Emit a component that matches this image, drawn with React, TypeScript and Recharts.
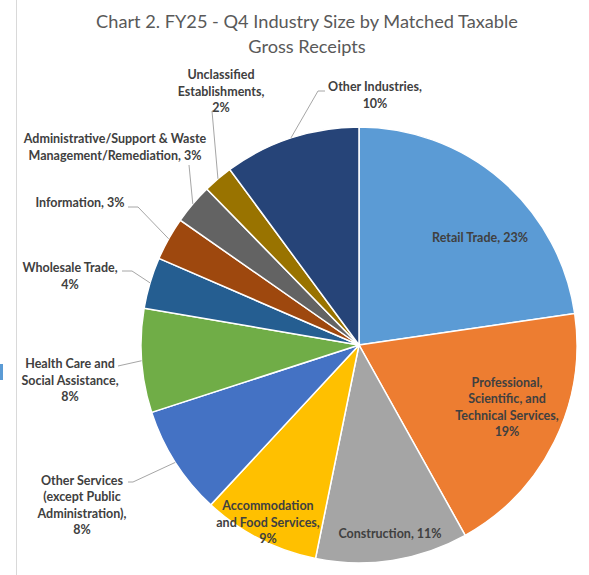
import React from 'react';
import { PieChart, Pie, Cell } from 'recharts';

const industries = [
  'Retail Trade',
  'Professional, Scientific, and Technical Services',
  'Construction',
  'Accommodation and Food Services',
  'Other Services (except Public Administration)',
  'Health Care and Social Assistance',
  'Wholesale Trade',
  'Information',
  'Administrative/Support & Waste Management/Remediation',
  'Unclassified Establishments',
  'Other Industries',
];

// share of matched taxable gross receipts (%)
const shares = [22.7, 19.2, 11.3, 8.7, 8.1, 7.7, 3.8, 3.2, 3.0, 2.2, 10.1];

// how Excel wrapped each data label; {p} is the percentage
const labelLines = [
  ['Retail Trade, {p}'],
  ['Professional,', 'Scientific, and', 'Technical Services,', '{p}'],
  ['Construction, {p}'],
  ['Accommodation', 'and Food Services,', '{p}'],
  ['Other Services', '(except Public', 'Administration),', '{p}'],
  ['Health Care and', 'Social Assistance,', '{p}'],
  ['Wholesale Trade,', '{p}'],
  ['Information, {p}'],
  ['Administrative/Support & Waste', 'Management/Remediation, {p}'],
  ['Unclassified', 'Establishments,', '{p}'],
  ['Other Industries,', '{p}'],
];

const colors = [
  '#5B9BD5', '#ED7D31', '#A5A5A5', '#FFC000', '#4472C4', '#70AD47',
  '#255E91', '#9E480E', '#636363', '#997300', '#264478',
];

const data = industries.map((name, i) => ({ name, value: shares[i] }));

// label placement relative to pie centre: text centre, leader knee and tail
type Place = { tx: number; ty: number; knee?: [number, number]; tail?: [number, number] };
const placement: Place[] = [
  { tx: 121, ty: -108 },
  { tx: 148, ty: 62 },
  { tx: 31, ty: 188 },
  { tx: -91, ty: 177 },
  { tx: -277, ty: 160, knee: [-226, 137], tail: [-231, 137] },
  { tx: -289, ty: 35, knee: [-241, 21], tail: [-241, 21] },
  { tx: -289, ty: -69, knee: [-227, -74], tail: [-237, -74] },
  { tx: -279, ty: -143, knee: [-221, -138], tail: [-231, -138] },
  { tx: -244, ty: -198, knee: [-170, -180], tail: [-170, -180] },
  { tx: -138, ty: -254, knee: [-147, -234], tail: [-144, -234] },
  { tx: 16, ty: -250, knee: [-41, -254], tail: [-34, -254] },
];

const RADIAN = Math.PI / 180;
const LINE_H = 16.5;

const renderLabel = (props: any) => {
  const { cx, cy, midAngle, outerRadius, percent, index } = props;
  const p = placement[index];
  const pct = `${Math.round(percent * 100)}%`;
  const lines = labelLines[index].map((l) => l.replace('{p}', pct));
  const n = lines.length;
  let leader = null;
  if (p.knee && p.tail) {
    const ex = cx + outerRadius * Math.cos(-midAngle * RADIAN);
    const ey = cy + outerRadius * Math.sin(-midAngle * RADIAN);
    const pts = `${ex},${ey} ${cx + p.knee[0]},${cy + p.knee[1]} ${cx + p.tail[0]},${cy + p.tail[1]}`;
    leader = <polyline points={pts} fill="none" stroke="#a6a6a6" strokeWidth={1} />;
  }
  return (
    <g key={`lbl-${index}`}>
      {leader}
      <text
        x={cx + p.tx}
        y={cy + p.ty}
        textAnchor="middle"
        fill="#404040"
        fontFamily="Lato, 'Open Sans', sans-serif"
        fontWeight={700}
        fontSize={12.5}
      >
        {lines.map((l, i) => (
          <tspan key={i} x={cx + p.tx} y={cy + p.ty + (i - (n - 1) / 2) * LINE_H} dominantBaseline="central">
            {l}
          </tspan>
        ))}
      </text>
    </g>
  );
};

export default function App() {
  return (
    <div style={{ position: 'absolute', left: 0, top: 0, width: 589, height: 575, background: '#fff', overflow: 'hidden' }}>
      <div style={{ position: 'absolute', left: 16, top: 0, width: 1, height: 575, background: '#d9d9d9' }} />
      <div style={{ position: 'absolute', left: 0, top: 364, width: 3, height: 16, background: '#5b9bd5' }} />
      <div
        style={{
          position: 'absolute',
          left: 0,
          top: 9,
          width: 614,
          textAlign: 'center',
          fontFamily: "Lato, 'Open Sans', sans-serif",
          fontSize: 18.2,
          lineHeight: '25px',
          color: '#595959',
        }}
      >
        Chart 2. FY25 - Q4 Industry Size by Matched Taxable
        <br />
        Gross Receipts
      </div>
      <div style={{ position: 'absolute', left: 0, top: 0 }}>
        <PieChart width={589} height={575} margin={{ top: 0, right: 0, bottom: 0, left: 0 }}>
          <Pie
            data={data}
            dataKey="value"
            nameKey="name"
            cx={359}
            cy={345}
            outerRadius={218}
            startAngle={90}
            endAngle={-270}
            stroke="#ffffff"
            strokeWidth={1.5}
            label={renderLabel}
            labelLine={false}
            isAnimationActive={false}
          >
            {data.map((d, i) => (
              <Cell key={d.name} fill={colors[i]} />
            ))}
          </Pie>
        </PieChart>
      </div>
    </div>
  );
}
